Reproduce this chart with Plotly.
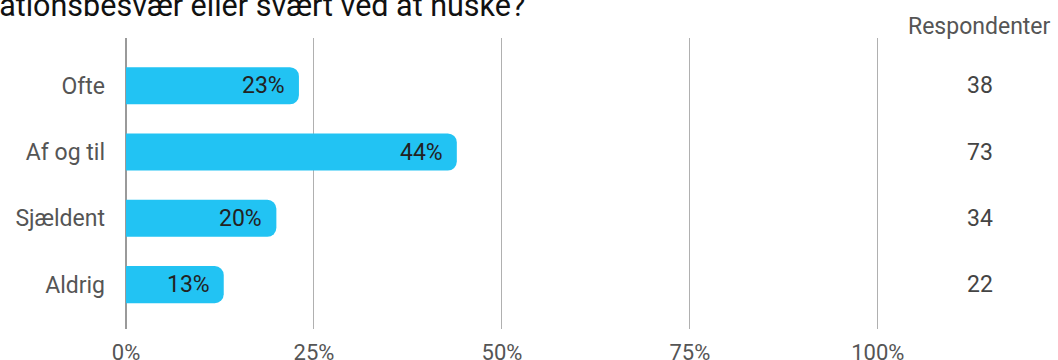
import plotly.graph_objects as go

categories = ['Ofte', 'Af og til', 'Sjældent', 'Aldrig']
percent = [23, 44, 20, 13]
respondents = [38, 73, 34, 22]
tick_vals = [0, 25, 50, 75, 100]
tick_text = ['0%', '25%', '50%', '75%', '100%']

title_text = 'Oplever du koncentrationsbesvær eller svært ved at huske?'

FONT = 'Roboto'
BAR_COLOR = '#22c3f3'

fig = go.Figure()

fig.add_trace(go.Bar(
    x=percent,
    y=categories,
    orientation='h',
    width=0.56,
    marker=dict(color=BAR_COLOR, line=dict(width=0)),
    hoverinfo='skip',
))

annotations = []

# procent-labels inde i søjlerne
for cat, val in zip(categories, percent):
    annotations.append(dict(
        x=val, y=cat, xref='x', yref='y',
        text=f'{val}%', showarrow=False,
        xanchor='right', xshift=-12,
        font=dict(family=FONT, size=23, color='#222222'),
    ))

# respondent-kolonnen til højre
for cat, n in zip(categories, respondents):
    annotations.append(dict(
        x=1.1341, y=cat, xref='paper', yref='y',
        text=str(n), showarrow=False, xanchor='center',
        font=dict(family=FONT, size=23, color='#444444'),
    ))

annotations.append(dict(
    x=1.1341, y=1.041, xref='paper', yref='paper',
    text='Respondenter', showarrow=False,
    xanchor='center', yanchor='middle',
    font=dict(family=FONT, size=23, color='#555555'),
))

# titlen er beskåret i toppen af billedet
annotations.append(dict(
    x=0.533, y=1.113, xref='paper', yref='paper',
    text=title_text, showarrow=False,
    xanchor='right', yanchor='middle',
    font=dict(family=FONT, size=30.5, color='#111111'),
))

fig.update_layout(
    width=1058, height=360,
    margin=dict(l=126, r=179, t=38, b=31),
    paper_bgcolor='white', plot_bgcolor='white',
    showlegend=False,
    barcornerradius=9,
    annotations=annotations,
    xaxis=dict(
        range=[0, 100.15],
        tickvals=tick_vals, ticktext=tick_text,
        showgrid=True, gridcolor='#b0b0b0', gridwidth=1,
        zeroline=True, zerolinecolor='#9a9a9a', zerolinewidth=2,
        showline=False, automargin=False,
        ticks='', ticklabelstandoff=8,
        tickfont=dict(family=FONT, size=22, color='#555555'),
        fixedrange=True,
    ),
    yaxis=dict(
        range=[3.67, -0.72],
        showgrid=False, zeroline=False, showline=False,
        automargin=False,
        ticks='', ticklabelstandoff=20,
        tickfont=dict(family=FONT, size=23, color='#555555'),
        fixedrange=True,
    ),
)

fig.write_html("out.html", config={'displayModeBar': False},
               post_script="document.body.style.margin='0';")
